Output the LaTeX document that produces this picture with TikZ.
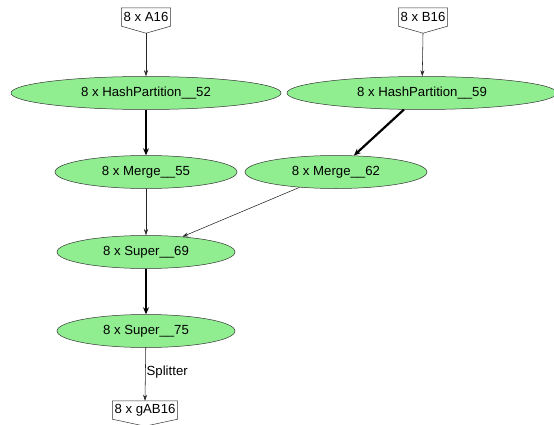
\documentclass[tikz,border=0pt]{standalone}
\usepackage{fontspec}
\setmainfont{Liberation Sans}
\usetikzlibrary{shapes.geometric,arrows.meta,calc}
\begin{document}
\begin{tikzpicture}[x=1pt,y=-1pt,
  font=\fontsize{13.2}{15}\selectfont,
  opnode/.style={ellipse,draw=black!80,line width=0.5pt,fill=opgreen,inner sep=0pt,
    minimum width=#1,minimum height=33pt},
  iobox/.style={rectangle,inner xsep=2pt,inner ysep=2pt,minimum height=18pt},
  house/.style={draw=black!80,line width=0.5pt,line join=miter},
  thin edge/.style={draw=black!85,line width=0.55pt,-{Stealth[length=6pt,width=4pt]}},
  thick edge/.style={draw=black,line width=2.2pt,-{Stealth[length=7pt,width=6pt]}}]
\definecolor{opgreen}{HTML}{90EE90}
\useasboundingbox (0,0) rectangle (554,425);
\clip (0,0) rectangle (554,425);

% input and output data sets
\node[iobox] (a16) at (146,17) {8 x A16};
\node[iobox] (b16) at (423,17) {8 x B16};
\node[iobox] (gab) at (145,410) {8 x gAB16};
\foreach \n in {a16,b16,gab}
  \draw[house] (\n.north west) -- (\n.north east) -- (\n.south east)
    -- ($(\n.south)+(0,7)$) coordinate (\n-tip) -- (\n.south west) -- cycle;

% operators
\node[opnode=270pt] (hp52) at (146,93) {8 x HashPartition\_\_52};
\node[opnode=270pt] (hp59) at (422,93) {8 x HashPartition\_\_59};
\node[opnode=182pt] (m55) at (146,172) {8 x Merge\_\_55};
\node[opnode=182pt] (m62) at (336,172) {8 x Merge\_\_62};
\node[opnode=178pt] (s69) at (146,252) {8 x Super\_\_69};
\node[opnode=178pt] (s75) at (146,331) {8 x Super\_\_75};

% data flow
\draw[thin edge] (a16-tip) -- (hp52);
\draw[thin edge] (b16-tip) -- (hp59);
\draw[thick edge] (hp52) -- (m55);
\draw[thick edge] (hp59) -- (m62);
\draw[thin edge] (m55) -- (s69);
\draw[thin edge] (m62) -- (s69);
\draw[thick edge] (s69) -- (s75);
\draw[thin edge] (s75) -- node[right,inner sep=0pt,xshift=1pt,yshift=2pt] (split) {Splitter} (gab.north);
\end{tikzpicture}
\end{document}
